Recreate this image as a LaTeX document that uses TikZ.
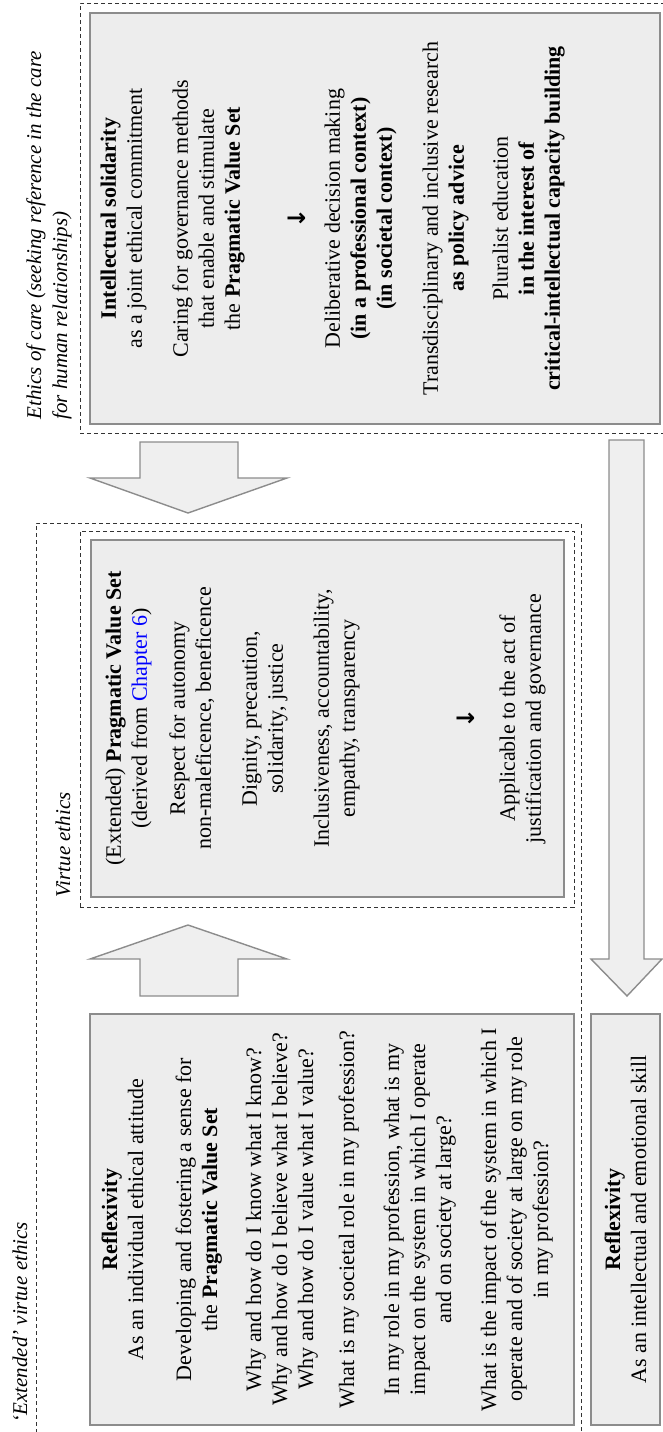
\documentclass[tikz,border=0pt]{standalone}
\usepackage{fontspec}
\setmainfont{Liberation Serif}
\newfontfamily\arrowfont{DejaVu Sans}
\usetikzlibrary{positioning}
\usetikzlibrary{fit}

\definecolor{boxfill}{HTML}{EDEDED}
\definecolor{boxline}{HTML}{8C8C8C}
\definecolor{arrowfill}{HTML}{EFEFEF}
\newcommand{\leadsdown}{{\arrowfont\bfseries\large ↓}}

\begin{document}
\begin{tikzpicture}[
    x=0.5pt, y=0.5pt,
    every node/.style={font=\fontsize{11}{13}\selectfont},
    panel/.style={draw=boxline, fill=boxfill, line width=0.8pt, inner sep=0pt},
    zone/.style={draw=black!80, dash pattern=on 2pt off 1.5pt, line width=0.5pt, inner sep=0pt},
    zonetitle/.style={rotate=90, inner sep=0pt, font=\fontsize{10.5}{13}\selectfont\itshape},
    panetext/.style={rotate=90, inner sep=0pt, align=center, anchor=north},
    bigarrow/.style={draw=boxline, fill=arrowfill, line width=0.7pt, line join=miter}
  ]
  \useasboundingbox (0,0) rectangle (663,-1432);

  \node[zone, fit={(80,-3) (700,-433)}] (carezone) {};
  \node[zone, fit={(36,-523) (581,-1460)}] (extzone) {};
  \node[zone, fit={(80,-531) (574,-907)}] (virtuezone) {};

  \node[zonetitle, align=left, anchor=north west] (carelabel) at (26,-420)
    {Ethics of care (seeking reference in the care\\for human relationships)};
  \node[zonetitle, anchor=base west] (extlabel) at (27,-1423) {`Extended' virtue ethics};
  \node[zonetitle, anchor=base west] (virtuelabel) at (70,-898) {Virtue ethics};

  \node[panel, fit={(90,-13) (660,-424)}] (care) {};
  \node[panel, fit={(91,-540) (564,-897)}] (valueset) {};
  \node[panel, fit={(90,-1014) (574,-1425)}] (reflattitude) {};
  \node[panel, fit={(591,-1014) (660,-1425)}] (reflskill) {};

  \draw[bigarrow] (140,-442) -- (238,-442) -- (238,-478) -- (287,-478)
    -- (188,-513) -- (90,-478) -- (140,-478) -- cycle;
  \draw[bigarrow] (140,-996) -- (238,-996) -- (238,-959) -- (287,-959)
    -- (188,-925) -- (90,-959) -- (140,-959) -- cycle;
  \draw[bigarrow] (609,-440) -- (644,-440) -- (644,-959) -- (662,-959)
    -- (627,-996) -- (591,-959) -- (609,-959) -- cycle;

  \node[panetext] (caretext) at ([xshift=5.5pt]care.west) {
    \textbf{Intellectual solidarity}\\
    as a joint ethical commitment\\[10pt]
    Caring for governance methods\\
    that enable and stimulate\\
    the \textbf{Pragmatic Value Set}\\[20pt]
    \leadsdown\\[4pt]
    Deliberative decision making\\
    \textbf{(in a professional context)}\\
    \textbf{(in societal context)}\\[10pt]
    Transdisciplinary and inclusive research\\
    \textbf{as policy advice}\\[9pt]
    Pluralist education\\
    \textbf{in the interest of}\\
    \textbf{critical-intellectual capacity building}};

  \node[panetext] (valuetext) at ([xshift=7.5pt]valueset.west) {
    (Extended) \textbf{Pragmatic Value Set}\\
    (derived from \textcolor{blue}{Chapter 6})\\[6pt]
    Respect for autonomy\\
    non-maleficence, beneficence\\[10pt]
    Dignity, precaution,\\
    solidarity, justice\\[10pt]
    Inclusiveness, accountability,\\
    empathy, transparency\\[47pt]
    \leadsdown\\[7pt]
    Applicable to the act of\\
    justification and governance};

  \node[panetext] (attitudetext) at ([xshift=6pt]reflattitude.west) {
    \textbf{Reflexivity}\\
    As an individual ethical attitude\\[11pt]
    Developing and fostering a sense for\\
    the \textbf{Pragmatic Value Set}\\[9pt]
    Why and how do I know what I know?\\
    Why and how do I believe what I believe?\\
    Why and how do I value what I value?\\[7.5pt]
    What is my societal role in my profession?\\[9.5pt]
    In my role in my profession, what is my\\
    impact on the system in which I operate\\
    and on society at large?\\[9.5pt]
    What is the impact of the system in which I\\
    operate and of society at large on my role\\
    in my profession?};

  \node[panetext, anchor=center] (skilltext) at (reflskill.center) {
    \textbf{Reflexivity}\\
    As an intellectual and emotional skill};
\end{tikzpicture}
\end{document}
